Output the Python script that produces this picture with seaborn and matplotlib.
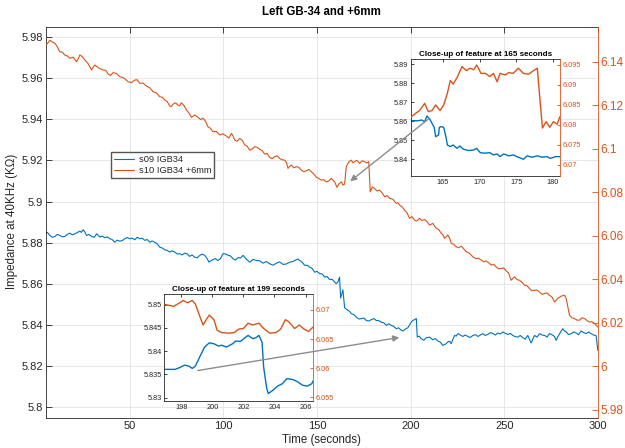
import matplotlib
matplotlib.use("Agg")
import matplotlib.pyplot as plt
import seaborn as sns
import pandas as pd
from matplotlib.ticker import FuncFormatter
from matplotlib.patches import FancyArrowPatch

# ---------------- data ----------------
# main plot: s09 IGB34 (left axis)
b_t = [4.6, 7.3, 10, 12.6, 15.3, 18, 20.6, 23.3, 25.1, 26.9,
       29.6, 32.3, 34, 36.6, 39.3, 42, 44.7, 47.3, 50, 52.7,
       55.3, 58, 60.7, 63.3, 66, 68.7, 71.3, 74, 76.7, 79.3,
       82, 84.7, 87.4, 90, 92.3, 94.4, 97.1, 99.8, 102.5, 105.1,
       107.8, 110.5, 114, 117.6, 121.1, 124.7, 128.3, 131.8, 135.4, 138.9,
       140.7, 143.4, 146, 148.7, 151.4, 154, 156.7, 159.4, 161.1, 162.0,
       162.6, 163.8, 164.7, 166.5, 168.3, 171, 173.6, 176.3, 179, 181.6,
       184.3, 187, 189.6, 192.3, 195, 196.7, 198.5, 200.3, 201.2, 203,
       203.5, 205.6, 208.3, 211.8, 214.5, 217.1, 219.8, 221.6, 223.4, 225.2,
       227.8, 230.5, 233.2, 235.9, 238.5, 241.2, 243.9, 246.5, 249.2, 251.9,
       254.5, 257.2, 259.9, 262.5, 264.3, 266.1, 268.8, 271.5, 274.1, 276.8,
       277.6, 279.5, 281.2, 283, 285.7, 288.3, 291, 293.7, 296.3, 299,
       299.9]
b_v = [5.8843, 5.8835, 5.8830, 5.8835, 5.8830, 5.8846, 5.8843, 5.8856, 5.8863, 5.8835,
       5.8830, 5.8843, 5.8827, 5.8824, 5.8819, 5.8802, 5.8807, 5.8819, 5.8819, 5.8814,
       5.8819, 5.8811, 5.8802, 5.8802, 5.8778, 5.8765, 5.8754, 5.8754, 5.8746, 5.8749,
       5.8733, 5.8729, 5.8738, 5.8738, 5.8705, 5.8717, 5.8713, 5.8746, 5.8738, 5.8722,
       5.8727, 5.8738, 5.8705, 5.8713, 5.8700, 5.8697, 5.8700, 5.8694, 5.8705, 5.8717,
       5.8713, 5.8689, 5.8681, 5.8656, 5.8649, 5.8632, 5.8620, 5.8608, 5.8608, 5.8632,
       5.8530, 5.8570, 5.8483, 5.8470, 5.8454, 5.8437, 5.8430, 5.8421, 5.8425, 5.8421,
       5.8413, 5.8397, 5.8397, 5.8381, 5.8373, 5.8376, 5.8386, 5.8413, 5.8421, 5.8430,
       5.8340, 5.8332, 5.8337, 5.8327, 5.8321, 5.8300, 5.8316, 5.8308, 5.8348, 5.8357,
       5.8343, 5.8343, 5.8348, 5.8343, 5.8357, 5.8353, 5.8357, 5.8360, 5.8365, 5.8353,
       5.8348, 5.8340, 5.8337, 5.8348, 5.8311, 5.8348, 5.8357, 5.8348, 5.8357, 5.8343,
       5.8324, 5.8357, 5.8381, 5.8365, 5.8357, 5.8360, 5.8370, 5.8357, 5.8357, 5.8348,
       5.8275]
# finer wiggles of s09 read between the samples above
b_t_fine = [6.0, 8.6, 11.3, 14.0, 16.6, 19.3, 22.0, 24.2, 26.0, 28.2,
            31.0, 33.1, 35.3, 38.0, 40.6, 43.3, 46.0, 48.6, 51.3, 54.0,
            56.6, 59.3, 62.0, 64.6, 67.3, 70.0, 72.6, 75.3, 78.0, 80.6,
            83.3, 86.0, 88.7, 91.1, 93.3, 95.7, 98.4, 101.1, 103.8, 106.4,
            109.1, 112.2, 115.8, 119.3, 122.9, 126.5, 130.0, 133.6, 137.1, 139.8,
            142.0, 144.7, 147.3, 150.0, 152.7, 155.3, 158.0, 160.2, 167.4, 169.6,
            172.3, 175.0, 177.6, 180.3, 183.0, 185.6, 188.3, 190.9, 193.6, 195.9,
            204.5, 207.0, 210.0, 213.1, 215.8, 218.5, 220.7, 224.3, 226.5, 229.1,
            231.8, 234.5, 237.2, 239.8, 242.5, 245.2, 247.8, 250.5, 253.2, 255.8,
            258.5, 261.2, 267.4, 270.1, 272.8, 275.4, 282.1, 284.3, 287.0, 289.6,
            292.3, 295.0, 297.6]
b_v_fine = [5.8850, 5.8826, 5.8840, 5.8828, 5.8840, 5.8838, 5.8849, 5.8850, 5.8852, 5.8840,
            5.8826, 5.8836, 5.8832, 5.8828, 5.8815, 5.8812, 5.8810, 5.8825, 5.8822, 5.8826,
            5.8822, 5.8815, 5.8808, 5.8795, 5.8774, 5.8762, 5.8760, 5.8745, 5.8740, 5.8745,
            5.8740, 5.8726, 5.8744, 5.8725, 5.8712, 5.8722, 5.8722, 5.8745, 5.8735, 5.8715,
            5.8725, 5.8720, 5.8718, 5.8712, 5.8708, 5.8690, 5.8706, 5.8696, 5.8708, 5.8720,
            5.8705, 5.8690, 5.8675, 5.8660, 5.8648, 5.8635, 5.8622, 5.8600, 5.8465, 5.8450,
            5.8428, 5.8433, 5.8418, 5.8430, 5.8420, 5.8410, 5.8405, 5.8392, 5.8385, 5.8370,
            5.8345, 5.8325, 5.8340, 5.8333, 5.8315, 5.8305, 5.8320, 5.8345, 5.8350, 5.8350,
            5.8338, 5.8352, 5.8350, 5.8348, 5.8362, 5.8350, 5.8355, 5.8358, 5.8358, 5.8342,
            5.8348, 5.8330, 5.8340, 5.8350, 5.8340, 5.8352, 5.8370, 5.8352, 5.8365, 5.8352,
            5.8362, 5.8365, 5.8350]

# main plot: s10 IGB34 +6mm (right axis)
o_t = [4.6, 7.3, 10, 12.6, 15.3, 18, 21.6, 23.3, 26, 29.6,
       31.3, 35.8, 38.4, 41.1, 44.7, 49.1, 52.7, 55.3, 58.9, 62.4,
       66, 68.7, 71.3, 73.1, 75.7, 77.6, 80.3, 82.9, 86.5, 89.1,
       91.7, 94.4, 98, 101.6, 104.3, 106, 108.7, 111.4, 114, 116.7,
       119.4, 122, 124.7, 127.4, 130, 132.7, 134.5, 136.3, 139, 141.6,
       144.3, 146.9, 149.6, 152.3, 154.9, 157.6, 159.4, 160.6, 163, 164.7,
       165.6, 168.3, 170, 172.7, 175.4, 177.6, 178.4, 180.7, 183.4, 186.1,
       188.7, 192.3, 194.1, 196.7, 199.4, 202, 204.7, 207.4, 210.1, 211.8,
       213.7, 216.3, 218.1, 219.8, 221.7, 224.3, 227, 229.7, 232.3, 235,
       237.6, 240.3, 243, 245.6, 248.3, 251, 253.6, 255.4, 258.1, 260.8,
       263.4, 266.1, 268.8, 271.4, 274.1, 276.8, 278.5, 280.3, 282.1, 283,
       284.8, 287.4, 290.1, 292.8, 295.4, 298.1, 299.9]
o_v = [6.1478, 6.1500, 6.1486, 6.1447, 6.1432, 6.1417, 6.1401, 6.1432, 6.1409, 6.1363,
       6.1386, 6.1363, 6.1345, 6.1351, 6.1332, 6.1309, 6.1317, 6.1302, 6.1289, 6.1263,
       6.1240, 6.1225, 6.1197, 6.1206, 6.1202, 6.1212, 6.1179, 6.1145, 6.1145, 6.1141,
       6.1102, 6.1079, 6.1064, 6.1059, 6.1071, 6.1041, 6.1048, 6.1018, 6.0994, 6.1010,
       6.0998, 6.0976, 6.0961, 6.0964, 6.0956, 6.0948, 6.0910, 6.0925, 6.0918, 6.0902,
       6.0899, 6.0895, 6.0869, 6.0856, 6.0848, 6.0864, 6.0848, 6.0823, 6.0848, 6.0838,
       6.0918, 6.0948, 6.0941, 6.0933, 6.0941, 6.0941, 6.0802, 6.0818, 6.0810, 6.0779,
       6.0772, 6.0749, 6.0741, 6.0718, 6.0680, 6.0672, 6.0680, 6.0675, 6.0649, 6.0657,
       6.0634, 6.0611, 6.0588, 6.0603, 6.0565, 6.0549, 6.0552, 6.0526, 6.0511, 6.0495,
       6.0488, 6.0484, 6.0465, 6.0457, 6.0449, 6.0438, 6.0395, 6.0411, 6.0395, 6.0372,
       6.0357, 6.0349, 6.0341, 6.0334, 6.0326, 6.0295, 6.0311, 6.0322, 6.0326, 6.0311,
       6.0234, 6.0219, 6.0211, 6.0219, 6.0203, 6.0196, 6.0180]
# finer wiggles of s10 read between the samples above
o_t_fine = [6.0, 8.6, 11.3, 14.0, 16.6, 19.8, 22.5, 24.6, 27.8, 30.4,
            33.5, 37.1, 39.7, 42.9, 46.9, 50.9, 54.0, 57.1, 60.6, 64.2,
            67.3, 70.0, 72.2, 74.4, 76.6, 78.9, 81.6, 84.7, 87.8, 90.4,
            93.0, 96.2, 99.8, 102.9, 105.1, 107.3, 110.0, 112.7, 115.3, 118.0,
            120.7, 123.3, 126.0, 128.7, 131.3, 133.6, 135.4, 137.6, 140.3, 142.9,
            145.6, 148.2, 150.9, 153.6, 156.2, 158.5, 161.8, 163.8, 166.9, 169.1,
            171.3, 174.0, 176.5, 179.5, 182.0, 184.7, 187.4, 190.5, 193.2, 195.4,
            198.0, 200.7, 203.3, 206.0, 208.7, 212.7, 215.0, 217.2, 220.7, 223.0,
            225.6, 228.3, 231.0, 233.6, 236.3, 239.0, 241.6, 244.3, 246.9, 249.6,
            252.3, 256.8, 259.4, 262.1, 264.7, 267.4, 270.1, 272.7, 275.4, 286.1,
            288.7, 291.4, 294.1, 296.7]
o_v_fine = [6.1484, 6.1492, 6.1470, 6.1445, 6.1428, 6.1422, 6.1415, 6.1425, 6.1392, 6.1375,
            6.1372, 6.1362, 6.1338, 6.1347, 6.1326, 6.1305, 6.1318, 6.1303, 6.1282, 6.1258,
            6.1238, 6.1218, 6.1195, 6.1212, 6.1198, 6.1200, 6.1165, 6.1156, 6.1135, 6.1128,
            6.1095, 6.1080, 6.1069, 6.1050, 6.1060, 6.1035, 6.1040, 6.1012, 6.0999, 6.1007,
            6.0992, 6.0979, 6.0955, 6.0968, 6.0950, 6.0938, 6.0920, 6.0913, 6.0915, 6.0895,
            6.0905, 6.0885, 6.0864, 6.0858, 6.0852, 6.0855, 6.0840, 6.0833, 6.0940, 6.0936,
            6.0947, 6.0945, 6.0935, 6.0825, 6.0806, 6.0798, 6.0785, 6.0768, 6.0752, 6.0733,
            6.0706, 6.0688, 6.0668, 6.0670, 6.0665, 6.0645, 6.0628, 6.0604, 6.0590, 6.0560,
            6.0545, 6.0540, 6.0522, 6.0500, 6.0496, 6.0480, 6.0476, 6.0468, 6.0448, 6.0452,
            6.0428, 6.0398, 6.0386, 6.0370, 6.0347, 6.0350, 6.0330, 6.0337, 6.0318, 6.0222,
            6.0212, 6.0222, 6.0210, 6.0205]

# inset 1: close-up at 165 s
i1_bt = [160.6, 161.6, 162.1, 162.5, 162.8, 163.2, 163.5, 163.8, 164.0, 164.4,
         164.5, 164.8, 165.1, 165.4, 165.6, 166.0, 166.4, 166.9, 167.3, 167.8,
         168.5, 169.2, 169.6, 170.1, 170.8, 171.4, 171.9, 172.4, 172.8, 173.3,
         174.0, 174.6, 175.3, 176.0, 176.5, 177.2, 177.9, 178.5, 179.2, 179.7,
         180.4, 181.0]
i1_bv = [5.8603, 5.8603, 5.8607, 5.8598, 5.8628, 5.8611, 5.8589, 5.8568, 5.8519, 5.8528,
         5.8568, 5.8572, 5.8568, 5.8519, 5.8475, 5.8467, 5.8475, 5.8458, 5.8470, 5.8453,
         5.8446, 5.8449, 5.8458, 5.8435, 5.8432, 5.8435, 5.8423, 5.8428, 5.8414, 5.8428,
         5.8418, 5.8423, 5.8411, 5.8400, 5.8418, 5.8411, 5.8418, 5.8411, 5.8414, 5.8405,
         5.8414, 5.8414]
i1_ot = [160.6, 161.2, 161.8, 162.5, 163.0, 163.5, 164.0, 164.6, 165.1, 165.6,
         166.0, 166.4, 167.0, 167.6, 168.2, 168.7, 169.2, 169.6, 170.2, 170.8,
         171.4, 171.9, 172.4, 172.8, 173.5, 174.0, 174.6, 175.3, 176.0, 176.7,
         177.4, 177.9, 178.3, 178.6, 179.1, 179.6, 180.1, 180.6, 181.0]
i1_ov = [6.0819, 6.0828, 6.0836, 6.0854, 6.0833, 6.0836, 6.0850, 6.0836, 6.0850, 6.0879,
         6.0911, 6.0902, 6.0921, 6.0946, 6.0936, 6.0942, 6.0938, 6.0950, 6.0929, 6.0929,
         6.0921, 6.0929, 6.0908, 6.0929, 6.0925, 6.0931, 6.0929, 6.0942, 6.0929, 6.0927,
         6.0936, 6.0942, 6.0854, 6.0792, 6.0808, 6.0794, 6.0808, 6.0802, 6.0821]

# inset 2: close-up at 199 s
i2_bt = [196.95, 197.6, 197.9, 198.2, 198.5, 198.7, 198.9, 199.2, 199.5, 199.8,
         200.1, 200.4, 200.6, 200.9, 201.3, 201.5, 201.8, 202.1, 202.3, 202.6,
         202.8, 203.0, 203.2, 203.3, 203.5, 203.6, 203.9, 204.2, 204.5, 204.8,
         205.2, 205.5, 205.8, 206.1, 206.4, 206.5]
i2_bv = [5.8361, 5.8361, 5.8365, 5.8370, 5.8368, 5.8363, 5.8368, 5.8389, 5.8409, 5.8418,
         5.8416, 5.8411, 5.8413, 5.8409, 5.8416, 5.8422, 5.8421, 5.8429, 5.8434, 5.8427,
         5.8429, 5.8434, 5.8419, 5.8366, 5.8320, 5.8309, 5.8316, 5.8325, 5.8330, 5.8341,
         5.8339, 5.8334, 5.8327, 5.8325, 5.8330, 5.8337]
i2_ot = [196.95, 197.5, 197.9, 198.1, 198.4, 198.7, 198.9, 199.2, 199.4, 199.6,
         199.8, 200.1, 200.3, 200.6, 201.1, 201.4, 201.7, 202.0, 202.3, 202.6,
         203.0, 203.3, 203.7, 204.1, 204.4, 204.7, 204.9, 205.3, 205.6, 205.9,
         206.2, 206.5]
i2_ov = [6.0709, 6.0706, 6.0712, 6.0716, 6.0712, 6.0716, 6.0710, 6.0688, 6.0674, 6.0683,
         6.0691, 6.0683, 6.0665, 6.0661, 6.0660, 6.0661, 6.0667, 6.0668, 6.0677, 6.0674,
         6.0677, 6.0668, 6.0660, 6.0661, 6.0667, 6.0683, 6.0680, 6.0668, 6.0674, 6.0667,
         6.0663, 6.0671]

series_labels = ["s09 IGB34", "s10 IGB34 +6mm"]
main_xticks = [50, 100, 150, 200, 250, 300]
main_yticks_left = [5.8, 5.82, 5.84, 5.86, 5.88, 5.9, 5.92, 5.94, 5.96, 5.98]
main_yticks_right = [5.98, 6.0, 6.02, 6.04, 6.06, 6.08, 6.1, 6.12, 6.14]
i1_xticks = [165, 170, 175, 180]
i1_yticks_left = [5.84, 5.85, 5.86, 5.87, 5.88, 5.89]
i1_yticks_right = [6.07, 6.075, 6.08, 6.085, 6.09, 6.095]
i2_xticks = [198, 200, 202, 204, 206]
i2_yticks_left = [5.83, 5.835, 5.84, 5.845, 5.85]
i2_yticks_right = [6.055, 6.06, 6.065, 6.07]

# ---------------- style ----------------
sns.set_style("white")
plt.rcParams['font.family'] = ['Liberation Sans', 'DejaVu Sans']

BLUE = '#0072BD'
ORANGE = '#D95319'
AXC = '#262626'
fmt = FuncFormatter(lambda v, p: f"{round(v, 4):g}")

fig = plt.figure(figsize=(6.25, 4.48), dpi=100)
W, H = 625.0, 448.0


def rect(x0, y0, x1, y1):
    return [x0 / W, 1 - y1 / H, (x1 - x0) / W, (y1 - y0) / H]


def style_pair(a, b, fs, tl):
    for s in ['left', 'bottom', 'top']:
        a.spines[s].set_color(AXC)
        a.spines[s].set_linewidth(0.6)
    a.spines['right'].set_visible(False)
    for s in ['left', 'bottom', 'top']:
        b.spines[s].set_visible(False)
    b.spines['right'].set_color(ORANGE)
    b.spines['right'].set_linewidth(0.6)
    a.tick_params(axis='both', direction='in', length=tl, width=0.6, colors=AXC,
                  labelsize=fs, top=True, right=False, pad=2)
    b.tick_params(axis='y', direction='in', length=tl, width=0.6, colors=ORANGE,
                  labelsize=fs, right=True, pad=2)
    a.yaxis.set_major_formatter(fmt)
    b.yaxis.set_major_formatter(fmt)
    a.set_xlabel('')
    a.set_ylabel('')
    b.set_ylabel('')


blue_df = pd.DataFrame({'t': b_t + b_t_fine, 'v': b_v + b_v_fine})
orange_df = pd.DataFrame({'t': o_t + o_t_fine, 'v': o_v + o_v_fine})

# ---------------- main axes ----------------
ax = fig.add_axes(rect(45.5, 27, 598, 418))
ax2 = ax.twinx()
sns.lineplot(data=blue_df, x='t', y='v', ax=ax, color=BLUE, lw=0.8)
sns.lineplot(data=orange_df, x='t', y='v', ax=ax2, color=ORANGE, lw=0.8)
ax.set_xlim(5, 300)
ax.set_ylim(5.7946, 5.985)
ax2.set_ylim(5.9761, 6.1561)
ax.set_xticks(main_xticks)
ax.set_yticks(main_yticks_left)
ax2.set_yticks(main_yticks_right)
style_pair(ax, ax2, 8, 4)
ax2.tick_params(axis='y', labelsize=8.5)
ax.grid(True, color='#E3E3E3', lw=0.6)
ax.set_axisbelow(True)

fig.text(0.515, 0.973, 'Left GB-34 and +6mm', ha='center', va='center',
         fontsize=8.3, fontweight='bold', color='black')
fig.text(0.515, 0.018, 'Time (seconds)', ha='center', va='center', fontsize=8.3, color=AXC)
fig.text(0.02, 0.505, 'Impedance at 40KHz (K\u03a9)', ha='center', va='center',
         rotation=90, fontsize=8.3, color=AXC)

handles = [ax.lines[0], ax2.lines[0]]
fig.legend(handles, series_labels, loc='upper left', bbox_to_anchor=(111 / W, 1 - 152 / H),
           bbox_transform=fig.transFigure, fontsize=6.7, frameon=True, fancybox=False,
           edgecolor='#555555', framealpha=1, borderpad=0.3, labelspacing=0.25,
           handlelength=2.2, handletextpad=0.5, borderaxespad=0)


# ---------------- insets ----------------
def inset(r, bt, bv, ot, ov, xlim, yl, yr, xt, ytl, ytr, title):
    ia = fig.add_axes(r)
    ia.set_facecolor('white')
    ib = ia.twinx()
    sns.lineplot(x=bt, y=bv, ax=ia, color=BLUE, lw=1.0)
    sns.lineplot(x=ot, y=ov, ax=ib, color=ORANGE, lw=1.0)
    ia.set_xlim(*xlim)
    ia.set_ylim(*yl)
    ib.set_ylim(*yr)
    ia.set_xticks(xt)
    ia.set_yticks(ytl)
    ib.set_yticks(ytr)
    style_pair(ia, ib, 5.3, 2.5)
    ia.set_title(title, fontsize=5.8, fontweight='bold', pad=2, color='black')
    return ia, ib


inset(rect(410.8, 59, 560, 176), i1_bt, i1_bv, i1_ot, i1_ov,
      (160.6, 181.0), (5.8312, 5.8928), (6.0672, 6.0965),
      i1_xticks, i1_yticks_left, i1_yticks_right, 'Close-up of feature at 165 seconds')
inset(rect(164.3, 294, 313.3, 401), i2_bt, i2_bv, i2_ot, i2_ov,
      (196.9, 206.5), (5.8293, 5.8523), (6.0544, 6.0727),
      i2_xticks, i2_yticks_left, i2_yticks_right, 'Close-up of feature at 199 seconds')

# ---------------- arrows ----------------
for (x0, y0), (x1, y1) in [((431, 117), (348, 183)), ((195, 371), (402, 337))]:
    arr = FancyArrowPatch((x0 / W, 1 - y0 / H), (x1 / W, 1 - y1 / H),
                          transform=fig.transFigure, arrowstyle='-|>', mutation_scale=9,
                          color='#8C8C8C', lw=1.0, zorder=10)
    fig.add_artist(arr)

fig.savefig('out.png', dpi=100)
